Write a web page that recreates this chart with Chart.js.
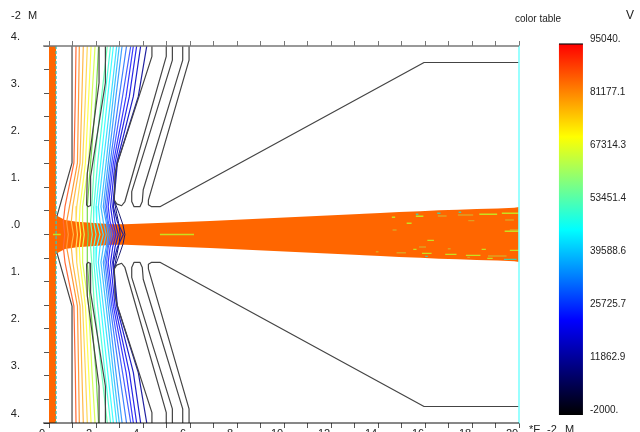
<!DOCTYPE html>
<html><head><meta charset="utf-8">
<style>html,body{margin:0;padding:0;background:#fff;overflow:hidden}canvas{display:block}</style>
<script src="https://cdn.jsdelivr.net/npm/chart.js@4/dist/chart.umd.min.js"></script>
</head><body><canvas id="c" width="640" height="432"></canvas>
<script>
const xTicks = [0,2,4,6,8,10,12,14,16,18,20];
const yTickLabels = {"4":"4.","3":"3.","2":"2.","1":"1.","0":".0","-1":"1.","-2":"2.","-3":"3.","-4":"4."};
const colorTickValues = [95040,81177.1,67314.3,53451.4,39588.6,25725.7,11862.9,-2000];
const colorTickLabels = ["95040.","81177.1","67314.3","53451.4","39588.6","25725.7","11862.9","-2000."];

// contour x positions at these upper half-heights (lower half mirrors the picture)
const contourY = [4,2.93,1.52,0.59,0.27,0];
const contourX = [
 [1.15,1.12,1.06,0.68,0.61,0.67],
 [1.29,1.26,1.21,0.87,0.75,0.82],
 [1.46,1.40,1.32,1.01,0.95,1.04],
 [1.63,1.55,1.43,1.18,1.15,1.21],
 [1.79,1.69,1.55,1.32,1.29,1.35],
 [1.96,1.83,1.69,1.43,1.43,1.50],
 [2.11,2.00,1.77,1.63,1.63,1.67],
 [2.48,2.24,1.93,1.82,1.77,1.84],
 [2.62,2.38,2.07,1.91,1.90,2.00],
 [2.74,2.50,2.20,2.00,2.03,2.17],
 [2.88,2.64,2.31,2.10,2.17,2.31],
 [2.99,2.74,2.43,2.21,2.31,2.43],
 [3.11,2.85,2.52,2.31,2.43,2.52],
 [3.30,2.99,2.60,2.38,2.48,2.60],
 [3.48,3.13,2.67,2.45,2.52,2.68],
 [3.59,3.28,2.74,2.52,2.60,2.77],
 [3.73,3.42,2.81,2.62,2.71,2.85],
 [3.90,3.59,2.88,2.71,2.81,2.95],
 [4.16,3.80,2.91,2.74,2.91,3.16]
];
const contourColors = ["#ff6a38","#ff9838","#ffb848","#ffd858","#ffff50","#d8ff58","#78d850","#70ffb8","#50ffe0","#40ffff",
 "#40e0ff","#40c0ff","#40a0ff","#4080ff","#4860ff","#3838ff","#2828e8","#2020c8","#2020a0"];

const arcY = [0.73,0.45,0.2,0];
const arcX = [[2.77,2.98,3.15,3.23],[2.77,2.88,2.98,3.03]];
const arcColors = ["#1a1a70","#101080"];

// electrode outlines, upper half
const electrodeX = [
 [0.98,0.98,0.34],
 [2.13,2.13,1.63,1.60,1.66,1.745,1.77,2.40,2.40],
 [4.38,4.38,2.91,2.81,2.78,2.88,3.09,3.23,4.99,4.99],
 [5.25,5.25,3.52,3.52,3.62,3.87,3.97,4.01,5.69,5.69],
 [5.96,5.96,4.23,4.23,4.37,4.72,15.96,20]
];
const electrodeY = [
 [4,1.52,0.39],
 [4,3.22,1.30,0.63,0.59,0.61,1.23,3.22,4],
 [4,3.78,1.51,1.30,0.73,0.65,0.61,0.70,3.78,4],
 [4,3.70,0.91,0.70,0.59,0.59,0.70,0.95,3.70,4],
 [4,3.70,0.73,0.63,0.59,0.59,3.65,3.65]
];

// beam half-width along z
const beamX = [0.3,0.68,1.19,2.68,3.23,6.85,13.2,13.4,14.1,14.9,15.8,16.6,17.4,18.2,19.1,19.8,20];
const beamH = [0.41,0.31,0.27,0.22,0.22,0.287,0.436,0.44,0.455,0.475,0.495,0.515,0.525,0.54,0.55,0.565,0.585];

const speckYellow = [[0.17,0.5,0],[4.72,6.17,0],[15.61,15.93,.387],[14.59,14.73,.365],[15.22,15.43,.238],[18.31,19.07,.429],[19.27,20,.451],
 [19.39,20,.068],[16.10,16.38,-.124],[15.5,15.64,-.315],[15.87,16.28,-.4],[16.86,17.34,-.422],[17.74,18.36,-.443],[18.41,18.59,-.315],[19.61,20,-.337],[18.65,18.88,-.507]];
const speckTan = [[17.4,18.05,.415],[16.55,16.92,.394],[17.84,18.1,.294],[19.41,19.78,.309],[19.61,20,.096],[14.62,14.79,.096],[15.75,16.04,-.266],
 [16.97,17.09,-.301],[14.79,15.19,-.386],[18.68,19.47,-.457],[13.91,14.02,-.365],[17.8,17.91,-.486]];
const speckCyan = [[17.43,17.54,.472],[15.61,15.72,.43],[16.52,16.66,.45],[19.36,19.9,-.528],[16.01,16.12,-.464]];

const leftBarX = [0,0.3];
const plateY = [4,-4];
const colorRange = [-2000,95040];

function mirror(xs, ys){
  const pts = xs.map((x,i)=>({x, y:ys[i]}));
  const low = xs.map((x,i)=>({x, y:-ys[i]})).reverse();
  return pts.concat(low.slice(1));
}
function line(data, color, width, extra){
  return Object.assign({data, borderColor:color, borderWidth:width, showLine:true, pointRadius:0, fill:false, order:2, borderJoinStyle:'round'}, extra||{});
}
function specks(list, color){
  const pts=[];
  list.forEach(s=>{pts.push({x:s[0],y:s[2]},{x:s[1],y:s[2]},{x:s[1],y:null});});
  return line(pts,color,1.4,{order:4,borderCapStyle:'butt',spanGaps:false});
}
const datasets = [];
datasets.push(line([{x:-0.25,y:plateY[0]},{x:20,y:plateY[0]}],"#777777",1.4,{clip:false,order:0}));
datasets.push(line([{x:-0.25,y:plateY[1]},{x:20,y:plateY[1]}],"#111111",1,{clip:false,order:0}));
datasets.push(line([{x:20,y:plateY[0]},{x:20,y:plateY[1]}],"#80ffff",1.6,{clip:false,order:1}));
contourX.forEach((xs,i)=>datasets.push(line(mirror(xs,contourY),contourColors[i],1.2,{order:2})));
arcX.forEach((xs,i)=>datasets.push(line(mirror(xs,arcY),arcColors[i],1,{order:2})));
electrodeX.forEach((xs,i)=>{
  const ys=electrodeY[i];
  datasets.push(line(xs.map((x,j)=>({x,y:ys[j]})),"#444444",1.2,{order:1}));
  datasets.push(line(xs.map((x,j)=>({x,y:-ys[j]})),"#444444",1.2,{order:1}));
});
datasets.push(specks(speckYellow,"#c8e020"));
datasets.push(specks(speckTan,"#e0a020"));
datasets.push(specks(speckCyan,"#50c8a0"));
datasets.push(line([{x:leftBarX[1],y:plateY[0]},{x:leftBarX[1],y:plateY[1]}],"#28c8c0",1.2,{order:4,borderDash:[3,2]}));
datasets.push(line([{x:leftBarX[0],y:plateY[0]},{x:leftBarX[1],y:plateY[0]},{x:leftBarX[1],y:plateY[1]},{x:leftBarX[0],y:plateY[1]}],"#ff6600",0,{order:6,fill:'shape',backgroundColor:"#ff6600"}));
const beamPts = beamX.map((x,i)=>({x,y:beamH[i]})).concat(beamX.map((x,i)=>({x,y:-beamH[i]})).reverse());
datasets.push(line(beamPts,"#ff6600",0,{order:6,fill:'shape',backgroundColor:"#ff6600"}));
datasets.push(line(colorRange.map(v=>({x:22.21,y:v})),function(ctx){
  const s=ctx.chart.scales.yc, c=ctx.chart.ctx;
  const a=s?s.getPixelForValue(colorRange[1]):NaN, b=s?s.getPixelForValue(colorRange[0]):NaN;
  if(!isFinite(a)||!isFinite(b)) return "#000000";
  const g=c.createLinearGradient(0,a,0,b);
  g.addColorStop(0,"#ff0000");g.addColorStop(0.125,"#ff8000");g.addColorStop(0.25,"#ffff00");g.addColorStop(0.375,"#80ff80");
  g.addColorStop(0.5,"#00ffff");g.addColorStop(0.625,"#0080ff");g.addColorStop(0.745,"#0000ff");g.addColorStop(1,"#000000");
  return g;
},24,{yAxisID:'yc',clip:false,order:3,borderCapStyle:'butt'}));
datasets.push(line([{x:21.7,y:colorRange[1]},{x:22.72,y:colorRange[1]}],"#111111",1.2,{yAxisID:'yc',clip:false,order:2}));

const labelPlugin = {id:'labels',afterDraw(chart){
  const c=chart.ctx, s=chart.scales.yc;
  c.save();c.font='10px "Liberation Sans", Arial, sans-serif';c.fillStyle="#222";c.textBaseline="middle";c.textAlign="left";
  colorTickLabels.forEach((t,i)=>c.fillText(t,590,s.getPixelForValue(colorTickValues[i])-5));
  c.fillText("color table",515,19);
  c.font='12px "Liberation Sans", Arial, sans-serif';
  c.fillText("V",626,16);
  c.font='11px "Liberation Sans", Arial, sans-serif';
  c.fillText("-2",11,16);c.fillText("M",28,16);
  c.fillText("*E",529,430);c.fillText("-2",547,430);c.fillText("M",565,430);
  c.restore();
}};

new Chart(document.getElementById('c'),{
  type:'scatter',
  data:{datasets},
  plugins:[labelPlugin],
  options:{
    responsive:false,animation:false,
    layout:{autoPadding:false,padding:{left:0,right:121,top:0,bottom:0}},
    plugins:{legend:{display:false},tooltip:{enabled:false},title:{display:false}},
    scales:{
      x:{type:'linear',position:'bottom',min:0,max:20,
        afterFit(s){s.height=9;s.paddingBottom=0;s.paddingTop=0;},
        border:{display:false},
        grid:{drawOnChartArea:false,drawTicks:true,tickLength:5,color:"#555"},
        afterBuildTicks(s){s.ticks=[...Array(21).keys()].map(v=>({value:v}));},
        ticks:{autoSkip:false,maxRotation:0,labelOffset:-7,padding:-1,color:"#222",font:{family:'"Liberation Sans", Arial, sans-serif',size:11},
          callback:v=>xTicks.includes(v)?String(v):''}},
      xt:{type:'linear',axis:'x',position:'top',min:0,max:20,
        afterFit(s){s.height=46;},
        border:{display:false},
        grid:{drawOnChartArea:false,drawTicks:true,tickLength:5,color:"#777"},
        ticks:{display:false,stepSize:1,autoSkip:false}},
      y:{type:'linear',position:'left',min:-4,max:4,
        afterFit(s){s.width=49;s.paddingBottom=0;s.paddingTop=0;},
        border:{display:false},
        grid:{drawOnChartArea:false,drawTicks:true,tickLength:5,color:"#555"},
        afterBuildTicks(s){s.ticks=[...Array(17).keys()].map(i=>({value:-4+i*0.5}));},
        ticks:{autoSkip:false,labelOffset:-9.5,padding:24,color:"#222",font:{family:'"Liberation Sans", Arial, sans-serif',size:11},
          callback:v=>yTickLabels[String(v)]||''}},
      yc:{type:'linear',display:false,position:'right',min:-4093,max:94517}
    }
  }
});
</script></body></html>
